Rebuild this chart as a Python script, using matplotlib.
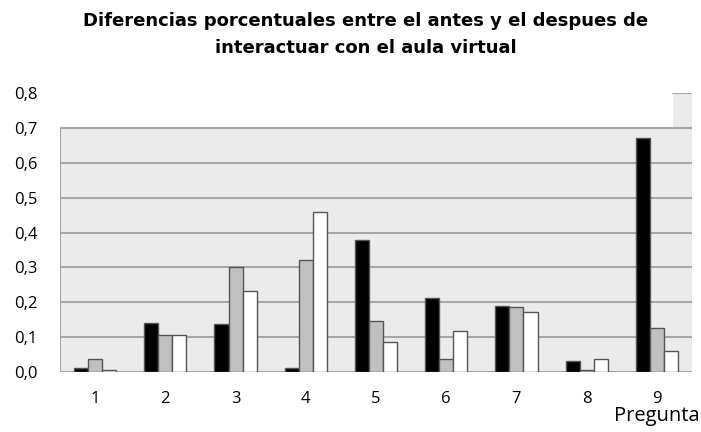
import numpy as np
import matplotlib.pyplot as plt
from matplotlib.patches import Rectangle

preguntas = ["1", "2", "3", "4", "5", "6", "7", "8", "9"]
serie_negra = [0.011, 0.141, 0.137, 0.011, 0.378, 0.211, 0.189, 0.031, 0.671]
serie_gris = [0.038, 0.105, 0.300, 0.321, 0.145, 0.037, 0.186, 0.007, 0.126]
serie_blanca = [0.005, 0.105, 0.233, 0.458, 0.086, 0.118, 0.172, 0.036, 0.059]
yticks = [0.0, 0.1, 0.2, 0.3, 0.4, 0.5, 0.6, 0.7, 0.8]
ytick_labels = ["0,0", "0,1", "0,2", "0,3", "0,4", "0,5", "0,6", "0,7", "0,8"]

fig = plt.figure(figsize=(7.01, 4.32), dpi=100)
ax = fig.add_axes([0.0856, 0.1389, 0.9016, 0.6458])

x = np.arange(1, len(preguntas) + 1)
w = 0.2
ax.set_xlim(0.5, 9.5)
ax.set_ylim(0, 0.8)

# plot area (Excel style): grey box up to 0.7 plus the little leftover patch
ax.add_patch(Rectangle((0.5, 0), 9.0, 0.7, facecolor="#ebebeb", edgecolor="none", zorder=0))
ax.add_patch(Rectangle((9.23, 0.7), 0.27, 0.1, facecolor="#ebebeb", edgecolor="none", zorder=0))
for yv in yticks[1:8]:
    ax.plot([0.5, 9.5], [yv, yv], color="#a6a6a6", lw=1.5, zorder=1)
ax.plot([9.23, 9.5], [0.8, 0.8], color="#a6a6a6", lw=1.5, zorder=1)
ax.plot([0.5, 9.5], [0, 0], color="#a6a6a6", lw=1.5, zorder=1)
ax.plot([0.5, 0.5], [0, 0.7], color="#a6a6a6", lw=1.5, zorder=1)

kw = dict(width=w, edgecolor="#555555", linewidth=1.0, zorder=3)
ax.bar(x - w, serie_negra, color="black", **kw)
ax.bar(x, serie_gris, color="#c0c0c0", **kw)
ax.bar(x + w, serie_blanca, color="white", **kw)

for s in ax.spines.values():
    s.set_visible(False)
ax.set_facecolor("none")
ax.set_xticks(x)
ax.set_xticklabels(preguntas, fontsize=12, fontfamily="Open Sans")
ax.set_yticks(yticks)
ax.set_yticklabels(ytick_labels, fontsize=12, fontfamily="Open Sans")
ax.tick_params(axis="both", length=0)
ax.tick_params(axis="y", pad=16)
ax.tick_params(axis="x", pad=14)

fig.text(0.9986, 0.0255, "Pregunta", ha="right", va="baseline", fontsize=14.5, fontfamily="Open Sans")
fig.text(0.5214, 0.9398, "Diferencias porcentuales entre el antes y el despues de",
         ha="center", va="baseline", fontsize=13, fontweight="bold", fontfamily="DejaVu Sans")
fig.text(0.5214, 0.8773, "interactuar con el aula virtual",
         ha="center", va="baseline", fontsize=13, fontweight="bold", fontfamily="DejaVu Sans")

fig.savefig("out.png", dpi=100)
